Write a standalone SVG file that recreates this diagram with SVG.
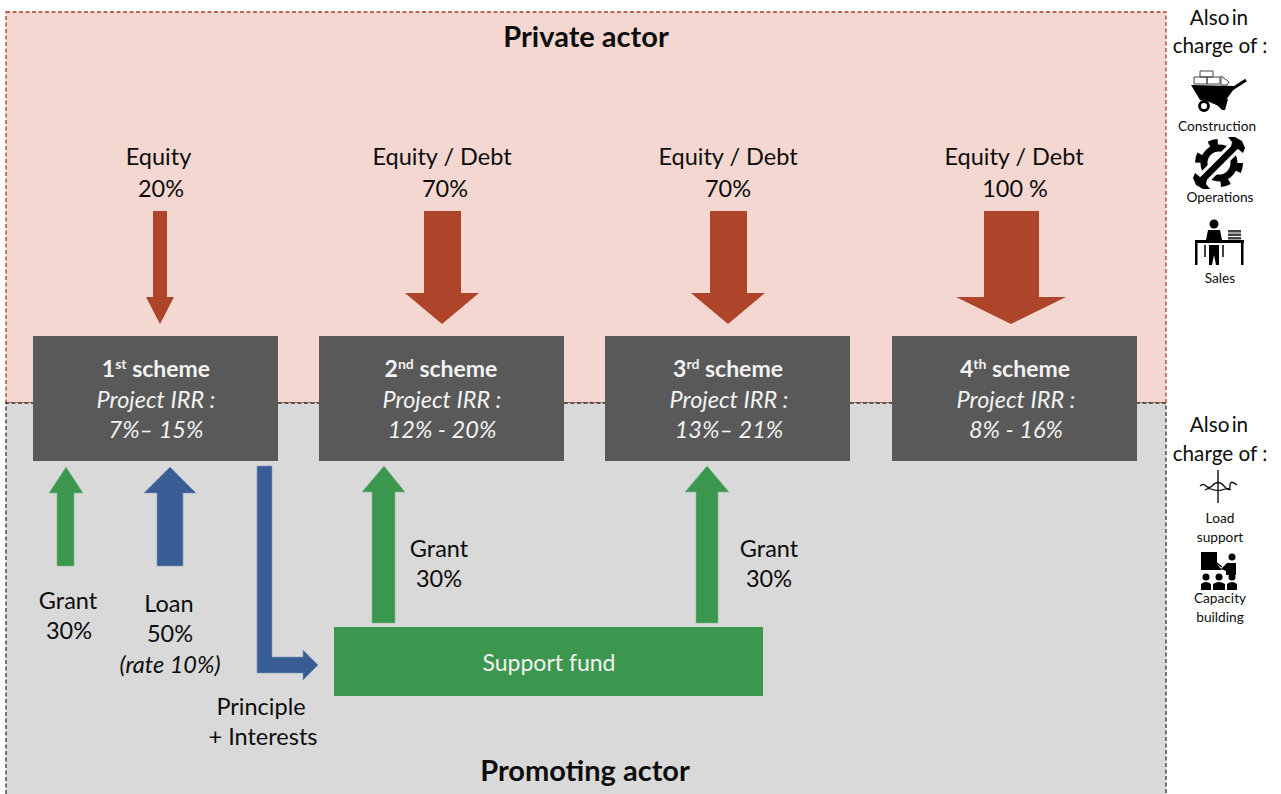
<svg xmlns="http://www.w3.org/2000/svg" width="1281" height="794" viewBox="0 0 1281 794">
<style>
text{font-family:"Lato","Carlito","Liberation Sans",sans-serif;text-anchor:middle}
.l{font-size:23.500px;fill:#0d0d0d}
.a{font-size:20.700px;fill:#0d0d0d}
.h{font-size:29px;font-weight:700;fill:#0d0d0d}
.t{font-size:23px;font-weight:700;fill:#f2f2f2}
.i{font-size:23.500px;font-style:italic;fill:#f2f2f2}
.s{font-size:13.700px;fill:#0d0d0d}
.sup{font-size:14px;font-weight:700}
.box{fill:#595959}
.red{fill:#ae452b}
.grn{fill:#3b974e;stroke:#7fb98a;stroke-width:.6}
.blu{fill:#385d95;stroke:#7f97bb;stroke-width:.6}
.k{fill:#000}
</style>
<rect width="1281" height="794" fill="#fff"/>
<g id="private-actor">
<rect x="6" y="12" width="1160" height="391" fill="#f4d7d0" stroke="#a8401f" stroke-width="1.300" stroke-dasharray="4 2.500"/>
<text class="h" x="586" y="47">Private actor</text>
</g>
<g id="promoting-actor">
<rect x="6" y="403" width="1160" height="391" fill="#d9d9d9"/>
<path d="M6 794V403H1166V794" fill="none" stroke="#333" stroke-width="1.300" stroke-dasharray="4 2.500"/>
<text class="h" x="585" y="781">Promoting actor</text>
</g>
<g id="connectors">
<polygon class="red" points="153,211 167,211 167,297 174,297 160,324 146,297 153,297"/>
<polygon class="red" points="424,211 461,211 461,293 479,293 442,324 405,293 424,293"/>
<polygon class="red" points="710,211 747,211 747,293 765,293 728,324 691,293 710,293"/>
<polygon class="red" points="984,211 1039,211 1039,297 1066,297 1011,324 956,297 984,297"/>
<polygon class="grn" points="57,566 74,566 74,493 83,493 66,467 49,493 57,493"/>
<polygon class="blu" points="157,566 183,566 183,493 196,493 170,467 144,493 157,493"/>
<polygon class="blu" points="257,466 272,466 272,657 303,657 303,650 318,665 303,680 303,673 257,673"/>
<polygon class="grn" points="372,623 395,623 395,492 405,492 384,466 362,492 372,492"/>
<polygon class="grn" points="696,623 718,623 718,492 729,492 707,466 685,492 696,492"/>
</g>
<g id="scheme-1">
<rect class="box" x="33" y="336" width="245" height="125"/>
<text class="t" x="156" y="377">1<tspan class="sup" dy="-8">st</tspan><tspan dy="8"> scheme</tspan></text>
<text class="i" x="156" y="408">Project IRR :</text>
<text class="i" x="156" y="438">7%– 15%</text>
</g>
<g id="scheme-2">
<rect class="box" x="319" y="336" width="245" height="125"/>
<text class="t" x="441" y="377">2<tspan class="sup" dy="-8">nd</tspan><tspan dy="8"> scheme</tspan></text>
<text class="i" x="442" y="408">Project IRR :</text>
<text class="i" x="442" y="438">12% - 20%</text>
</g>
<g id="scheme-3">
<rect class="box" x="605" y="336" width="245" height="125"/>
<text class="t" x="728" y="377">3<tspan class="sup" dy="-8">rd</tspan><tspan dy="8"> scheme</tspan></text>
<text class="i" x="729" y="408">Project IRR :</text>
<text class="i" x="729" y="438">13%– 21%</text>
</g>
<g id="scheme-4">
<rect class="box" x="892" y="336" width="245" height="125"/>
<text class="t" x="1015" y="377">4<tspan class="sup" dy="-8">th</tspan><tspan dy="8"> scheme</tspan></text>
<text class="i" x="1016" y="408">Project IRR :</text>
<text class="i" x="1016" y="438">8% - 16%</text>
</g>
<g id="support-fund">
<rect x="334" y="627" width="429" height="69" fill="#3b974e"/>
<text x="549" y="671" font-size="23" fill="#f2f2f2">Support fund</text>
</g>
<g id="labels">
<text class="l" x="158.500" y="165">Equity</text><text class="l" x="161" y="197">20%</text>
<text class="l" x="442" y="165">Equity / Debt</text><text class="l" x="445" y="197">70%</text>
<text class="l" x="728" y="165">Equity / Debt</text><text class="l" x="728" y="197">70%</text>
<text class="l" x="1014" y="165">Equity / Debt</text><text class="l" x="1015" y="197">100 %</text>
<text class="l" x="68" y="609">Grant</text><text class="l" x="69" y="639">30%</text>
<text class="l" x="169" y="612">Loan</text><text class="l" x="170" y="642">50%</text>
<text class="l" x="170" y="673" font-style="italic">(rate 10%)</text>
<text class="l" x="261" y="715">Principle</text><text class="l" x="263" y="745">+ Interests</text>
<text class="l" x="439" y="557">Grant</text><text class="l" x="439" y="587">30%</text>
<text class="l" x="769" y="557">Grant</text><text class="l" x="769" y="587">30%</text>
</g>
<g id="charge-private">
<text class="a" x="1219" y="25" word-spacing="-3">Also in</text>
<text class="a" x="1220" y="53">charge of :</text>
<g id="icon-construction">
<polygon class="k" points="1191,85 1236,86 1231,93 1226,100 1221,107 1214,104 1207,101 1200,100"/>
<path d="M1226 93L1246 80" stroke="#000" stroke-width="3" fill="none"/>
<circle cx="1204" cy="106" r="4.500" fill="#fff" stroke="#000" stroke-width="2.800"/>
<path d="M1213 101L1228 99L1225 110H1222Z" fill="#000"/>
<path d="M1194 77h13v7h-13zM1200 71h13v6h-13zM1207 77h13v7h-13z" fill="#fff" stroke="#444" stroke-width="1"/>
<path d="M1221 76l8 6-2 3h-6z" fill="#fff" stroke="#444" stroke-width="1"/>
</g>
<text class="s" x="1217" y="131">Construction</text>
<g id="icon-operations">
<circle cx="1219" cy="163" r="15" fill="none" stroke="#000" stroke-width="7"/>
<circle cx="1219" cy="163" r="21" fill="none" stroke="#000" stroke-width="6" stroke-dasharray="9 13"/>
<path d="M1200 182L1238 144" stroke="#fff" stroke-width="13" fill="none"/>
<path d="M1203 179L1235 147" stroke="#000" stroke-width="6.500" fill="none"/>
<path d="M1195 173l5 4 5-1 2 3-1 5 4 5-7 0-7-4-3-7zM1243 153l-5-4-5 1-2-3 1-5-4-5 7 0 7 4 3 7z" fill="#000"/>
</g>
<text class="s" x="1220" y="202">Operations</text>
<g id="icon-sales">
<circle cx="1214" cy="224" r="4.500" class="k"/>
<path d="M1206 240l2-10h12l2 10z" class="k"/>
<rect x="1195" y="240" width="49" height="3" class="k"/>
<rect x="1195" y="243" width="2.500" height="22" class="k"/>
<rect x="1241" y="243" width="2.500" height="22" class="k"/>
<path d="M1209 245h10v20h-3l-2-10-2 10h-3z" class="k"/>
<path d="M1205 245v12M1223 245v12" stroke="#000" stroke-width="1.500"/>
<rect x="1228" y="230" width="13" height="2.500" fill="#444"/>
<rect x="1228" y="233.500" width="13" height="2.500" fill="#444"/>
<rect x="1228" y="237" width="13" height="2.500" fill="#444"/>
</g>
<text class="s" x="1220" y="283">Sales</text>
</g>
<g id="charge-promoting">
<text class="a" x="1219" y="432" word-spacing="-3">Also in</text>
<text class="a" x="1220" y="461">charge of :</text>
<g id="icon-load">
<path d="M1218 470v33" stroke="#555" stroke-width="2" fill="none"/>
<path d="M1200 486q3-3 6 0t6 0q6-7 12 0t6 0t7-1" stroke="#111" stroke-width="1.300" fill="none"/>
<path d="M1205 490q3-2 6-1 7 3 14 0 3-1 6 1" stroke="#111" stroke-width="1.200" fill="none"/>
</g>
<text class="s" x="1220" y="523">Load</text>
<text class="s" x="1220" y="542">support</text>
<g id="icon-capacity">
<polygon class="k" points="1201,552 1217,552 1217,564 1222,570 1201,570"/>
<path d="M1214 561l8 6" stroke="#000" stroke-width="1.500"/>
<circle cx="1232" cy="557" r="3.500" class="k"/>
<path d="M1221 569l6-6h9v12h-10v-4z" class="k"/>
<circle cx="1206" cy="577" r="3.500" class="k"/><circle cx="1219" cy="577" r="3.500" class="k"/><circle cx="1232" cy="577" r="3.500" class="k"/>
<path d="M1201 590v-6q5-4 10 0v6zM1213 590v-6q6-4 12 0v6zM1227 590v-6q5-4 10 0v6z" class="k"/>
</g>
<text class="s" x="1220" y="603">Capacity</text>
<text class="s" x="1220" y="622">building</text>
</g>
</svg>
